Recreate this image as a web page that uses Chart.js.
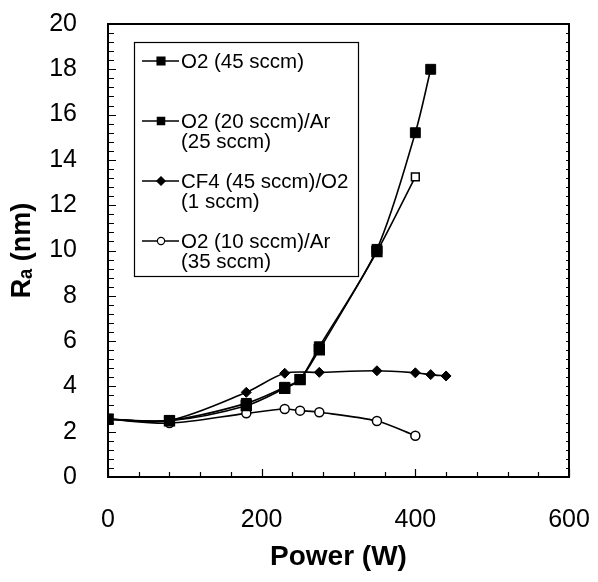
<!DOCTYPE html>
<html>
<head>
<meta charset="utf-8">
<script src="https://cdn.jsdelivr.net/npm/chart.js@4.4.1/dist/chart.umd.min.js"></script>
<style>
  html, body { margin: 0; padding: 0; background: #fff; }
  #wrap { width: 598px; height: 582px; }
</style>
</head>
<body>
<div id="wrap"><canvas id="c" width="598" height="582"></canvas></div>
<script>
// ---- data ----
const seriesLabels = [
  ['O2 (45 sccm)'],
  ['O2 (20 sccm)/Ar', '(25 sccm)'],
  ['CF4 (45 sccm)/O2', '(1 sccm)'],
  ['O2 (10 sccm)/Ar', '(35 sccm)']
];
const o2Power      = [0, 80, 180, 230, 250, 275, 350, 400, 420];
const o2Ra         = [2.55, 2.5, 3.25, 3.96, 4.31, 5.75, 10.05, 15.2, 18.0];
const o2ArPower    = [0, 80, 180, 230, 250, 275, 350, 400];
const o2ArRa       = [2.55, 2.48, 3.15, 3.92, 4.3, 5.62, 9.95, 13.25];
const cf4Power     = [0, 80, 180, 230, 275, 350, 400, 420, 440];
const cf4Ra        = [2.55, 2.5, 3.74, 4.58, 4.62, 4.69, 4.6, 4.52, 4.46];
const o2Ar35Power  = [0, 80, 180, 230, 250, 275, 350, 400];
const o2Ar35Ra     = [2.55, 2.38, 2.81, 3.0, 2.93, 2.86, 2.47, 1.82];
const xTickLabels  = [0, 200, 400, 600];
const yTickLabels  = [0, 2, 4, 6, 8, 10, 12, 14, 16, 18, 20];

const FONT = '"Liberation Sans", Arial, Helvetica, sans-serif';
const pts = (xs, ys) => xs.map((x, i) => ({ x: x, y: ys[i] }));
const isLabelled = (v, list) => list.some(t => Math.abs(t - v) < 1e-6);

const datasets = [
  {
    label: seriesLabels[0].join(' '),
    data: pts(o2Power, o2Ra),
    pointStyle: 'rect', pointRadius: 7,
    pointBackgroundColor: '#000', pointBorderColor: '#000', pointBorderWidth: 1,
    legendRadius: 5.6, legendFill: '#000'
  },
  {
    label: seriesLabels[1].join(' '),
    data: pts(o2ArPower, o2ArRa),
    pointStyle: 'rect',
    pointRadius: o2ArPower.map((p, i) => i === o2ArPower.length - 1 ? 5.5 : 7),
    pointBackgroundColor: o2ArPower.map((p, i) => i === o2ArPower.length - 1 ? '#fff' : '#000'),
    pointBorderColor: '#000', pointBorderWidth: 1.5,
    legendRadius: 5.2, legendFill: '#000'
  },
  {
    label: seriesLabels[2].join(' '),
    data: pts(cf4Power, cf4Ra),
    pointStyle: 'rectRot', pointRadius: 5,
    pointBackgroundColor: '#000', pointBorderColor: '#000', pointBorderWidth: 1,
    legendRadius: 4.2, legendFill: '#000'
  },
  {
    label: seriesLabels[3].join(' '),
    data: pts(o2Ar35Power, o2Ar35Ra),
    pointStyle: 'circle', pointRadius: 4.5,
    pointBackgroundColor: '#fff', pointBorderColor: '#000', pointBorderWidth: 1.5,
    legendRadius: 3.6, legendFill: '#fff'
  }
];
datasets.forEach(d => {
  d.borderColor = '#000';
  d.borderWidth = 1.6;
  d.tension = 0.3;
  d.fill = false;
  d.showLine = true;
});

// inward tick marks + full frame
const framePlugin = {
  id: 'frameTicks',
  afterDraw(chart) {
    const ctx = chart.ctx, ca = chart.chartArea;
    const xs = chart.scales.x, ys = chart.scales.y;
    ctx.save();
    ctx.strokeStyle = '#000';
    ctx.lineWidth = 1.2;
    ctx.beginPath();
    xs.ticks.forEach(t => {
      const px = Math.round(xs.getPixelForValue(t.value)) + 0.5;
      const len = isLabelled(t.value, xTickLabels) ? 8 : 5;
      ctx.moveTo(px, ca.bottom);
      ctx.lineTo(px, ca.bottom - len);
    });
    ys.ticks.forEach(t => {
      const py = Math.round(ys.getPixelForValue(t.value)) + 0.5;
      const len = isLabelled(t.value, yTickLabels) ? 8 : 6;
      ctx.moveTo(ca.left, py);
      ctx.lineTo(ca.left + len, py);
      ctx.moveTo(ca.right, py);
      ctx.lineTo(ca.right - 3, py);
    });
    ctx.stroke();
    ctx.lineWidth = 2;
    ctx.strokeRect(ca.left, ca.top, ca.right - ca.left, ca.bottom - ca.top);
    ctx.restore();
  }
};

// boxed legend with line + marker samples and two-line labels
const legendPlugin = {
  id: 'boxLegend',
  afterDraw(chart) {
    const ctx = chart.ctx, ca = chart.chartArea;
    const x0 = ca.left + 26, y0 = ca.top + 18, w = 224, h = 234;
    ctx.save();
    ctx.fillStyle = '#fff';
    ctx.fillRect(x0, y0, w, h);
    ctx.strokeStyle = '#000';
    ctx.lineWidth = 1.2;
    ctx.strokeRect(x0 + 0.5, y0 + 0.5, w, h);
    chart.data.datasets.forEach((ds, i) => {
      const cy = y0 + 19 + i * 60;
      ctx.strokeStyle = '#000';
      ctx.lineWidth = 1.6;
      ctx.beginPath();
      ctx.moveTo(x0 + 8, cy);
      ctx.lineTo(x0 + 45, cy);
      ctx.stroke();
      ctx.fillStyle = ds.legendFill;
      ctx.lineWidth = 1.2;
      Chart.helpers.drawPoint(ctx, { pointStyle: ds.pointStyle, radius: ds.legendRadius, borderWidth: 1.2, rotation: 0 }, x0 + 27, cy);
      ctx.fillStyle = '#000';
      ctx.font = '20.5px ' + FONT;
      ctx.textBaseline = 'middle';
      ctx.textAlign = 'left';
      seriesLabels[i].forEach((line, k) => {
        ctx.fillText(line, x0 + 47, cy + 1 + k * 20.5);
      });
    });
    ctx.restore();
  }
};

const zeroPad = s => { s.paddingTop = 0; s.paddingBottom = 0; s.paddingLeft = 0; s.paddingRight = 0; };

new Chart(document.getElementById('c'), {
  type: 'scatter',
  data: { datasets: datasets },
  plugins: [framePlugin, legendPlugin],
  options: {
    responsive: false,
    animation: false,
    devicePixelRatio: 1,
    layout: { padding: { top: 24, right: 29, left: 0, bottom: 0 } },
    plugins: { legend: { display: false }, tooltip: { enabled: false } },
    scales: {
      x: {
        type: 'linear', position: 'bottom', min: 0, max: 600,
        afterFit: s => { s.height = 105; zeroPad(s); },
        grid: { display: false, drawTicks: false },
        border: { display: false },
        ticks: {
          stepSize: 40, autoSkip: false, maxRotation: 0, padding: 28,
          color: '#000', font: { family: FONT, size: 25 },
          callback: v => isLabelled(v, xTickLabels) ? String(Math.round(v)) : ''
        },
        title: {
          display: true, text: 'Power (W)', color: '#000',
          font: { family: FONT, size: 28, weight: 'bold' },
          padding: { top: 0, bottom: 8 }
        }
      },
      y: {
        type: 'linear', position: 'left', min: 0, max: 20,
        afterFit: s => { s.width = 108; zeroPad(s); },
        grid: { display: false, drawTicks: false },
        border: { display: false },
        ticks: {
          stepSize: 0.4, autoSkip: false, padding: 31,
          color: '#000', font: { family: FONT, size: 25 },
          callback: v => isLabelled(v, yTickLabels) ? String(Math.round(v)) : ''
        },
        title: {
          display: true, text: 'Rₐ (nm)', color: '#000',
          font: { family: FONT, size: 27, weight: 'bold' },
          padding: { top: 6, bottom: 0 }
        }
      }
    }
  }
});
</script>
</body>
</html>
